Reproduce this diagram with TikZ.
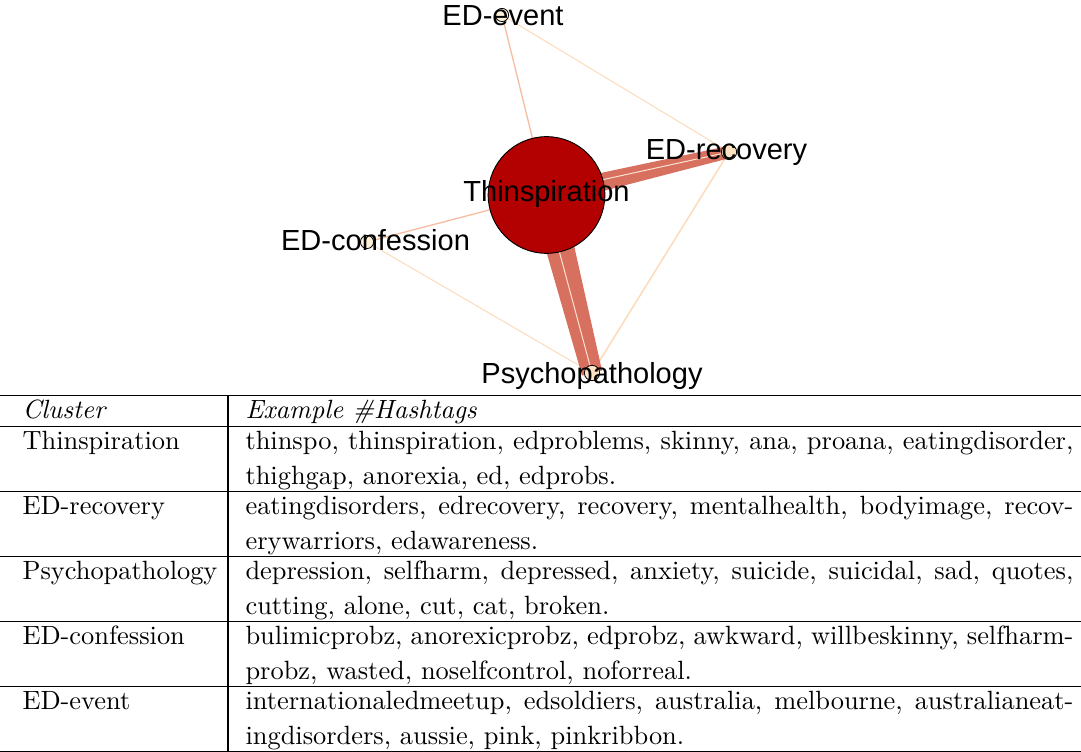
\documentclass[tikz,border=0pt]{standalone}
\usepackage{fontspec}
\newfontfamily\labelfont{Liberation Sans}
\usetikzlibrary{calc}
\pgfdeclarelayer{background}
\pgfsetlayers{background,main}

\definecolor{hubred}{HTML}{B30000}
\definecolor{leafpeach}{HTML}{FEE3C2}
\definecolor{leafpale}{HTML}{FEEFD6}
\definecolor{bandsalmon}{HTML}{D7705F}
\definecolor{bandlight}{HTML}{FCE3CF}
\definecolor{edgesalmon}{HTML}{F6BDA2}
\definecolor{edgepeach}{HTML}{FDDCBD}

\begin{document}
\begin{tikzpicture}[x=0.3788pt, y=-0.3788pt,
  hub/.style={circle, draw=black, line width=0.35pt, fill=hubred,
              minimum size=44.2pt, inner sep=0pt},
  leaf/.style={circle, draw=black, line width=0.3pt, fill=leafpeach,
               minimum size=5pt, inner sep=0pt},
  tag/.style={font=\labelfont\fontsize{11pt}{13pt}\selectfont,
              anchor=base, inner sep=0pt, text=black},
  cell/.style={anchor=base west, inner sep=0pt,
               font=\fontsize{10pt}{12pt}\selectfont},
  tabrule/.style={line width=0.4pt, draw=black},
  lightedge/.style={line width=0.5pt, draw=edgesalmon},
  faintedge/.style={line width=0.4pt, draw=edgepeach},
  seam/.style={line width=0.38pt, draw=bandlight},
  band/.style={fill=bandsalmon},
]
\useasboundingbox (0,0) rectangle (1081,752);

% ---- cluster graph: nodes ----
\node[hub] (thin) at (546.5,195) {};
\node[leaf, fill=leafpale] (event) at (502,15) {};
\node[leaf, minimum size=5.8pt] (rec) at (729,152) {};
\node[leaf, fill=leafpale] (conf) at (367,242) {};
\node[leaf, minimum size=5.8pt] (psy) at (592,373) {};

% ---- cluster graph: edges (behind the nodes) ----
\begin{pgfonlayer}{background}
  % weak links
  \draw[faintedge] (event.center) -- (rec.center);
  \draw[faintedge] (conf.center) -- (psy.center);
  \draw[faintedge, line width=0.6pt] (rec.center) -- (psy.center);
  \draw[lightedge] (thin.center) -- (event.center);
  \draw[lightedge] (thin.center) -- (conf.center);
  % strong links, slightly tapered towards the small cluster
  \fill[band] ($(thin.center)!3.9pt!90:(rec.center)$)
           -- ($(rec.center)!2.3pt!-90:(thin.center)$)
           -- ($(rec.center)!2.3pt!90:(thin.center)$)
           -- ($(thin.center)!3.9pt!-90:(rec.center)$) -- cycle;
  \draw[seam] ($(thin.center)!1.1pt!90:(rec.center)$) -- (rec.center);
  \fill[band] ($(thin.center)!6.0pt!90:(psy.center)$)
           -- ($(psy.center)!3.9pt!-90:(thin.center)$)
           -- ($(psy.center)!3.9pt!90:(thin.center)$)
           -- ($(thin.center)!6.0pt!-90:(psy.center)$) -- cycle;
  \draw[seam] ($(thin.center)!0.9pt!-90:(psy.center)$) -- (psy.center);
\end{pgfonlayer}

% ---- cluster graph: labels ----
\node[tag] (lbevent) at (503,26) {ED-event};
\node[tag] (lbrec) at (726.5,159.5) {ED-recovery};
\node[tag] (lbthin) at (546.5,202) {Thinspiration};
\node[tag] (lbconf) at (375.5,251) {ED-confession};
\node[tag] (lbpsy) at (592,383.5) {Psychopathology};

% ---- table rules ----
\foreach \yy in {395.5,426.5,491.5,556.5,621.5,686.5,751.3}
  \draw[tabrule] (0,\yy) -- (1081,\yy);
\draw[tabrule] (228,395.5) -- (228,752);

% ---- table header ----
\node[cell] (hclu) at (22,418) {\textit{Cluster}};
\node[cell] (htag) at (245,418) {\textit{Example \#Hashtags}};

% ---- table body ----
\node[cell] (c1) at (22,449.4) {Thinspiration};
\node[cell] (h1a) at (245,449.4) {\makebox[313.6pt][s]{thinspo, thinspiration, edproblems, skinny, ana, proana, eatingdisorder,}};
\node[cell] (h1b) at (245,484.9) {thighgap, anorexia, ed, edprobs.};

\node[cell] (c2) at (22,514.4) {ED-recovery};
\node[cell] (h2a) at (245,514.4) {\makebox[313.6pt][s]{eatingdisorders, edrecovery, recovery, mentalhealth, bodyimage, recov-}};
\node[cell] (h2b) at (245,549.9) {erywarriors, edawareness.};

\node[cell] (c3) at (22,579.4) {Psychopathology};
\node[cell] (h3a) at (245,579.4) {\makebox[313.6pt][s]{depression, selfharm, depressed, anxiety, suicide, suicidal, sad, quotes,}};
\node[cell] (h3b) at (245,614.9) {cutting, alone, cut, cat, broken.};

\node[cell] (c4) at (22,644.4) {ED-confession};
\node[cell] (h4a) at (245,644.4) {\makebox[313.6pt][s]{bulimicprobz, anorexicprobz, edprobz, awkward, willbeskinny, selfharm-}};
\node[cell] (h4b) at (245,679.9) {probz, wasted, noselfcontrol, noforreal.};

\node[cell] (c5) at (22,709.4) {ED-event};
\node[cell] (h5a) at (245,709.4) {\makebox[313.6pt][s]{internationaledmeetup, edsoldiers, australia, melbourne, australianeat-}};
\node[cell] (h5b) at (245,744.9) {ingdisorders, aussie, pink, pinkribbon.};
\end{tikzpicture}
\end{document}
